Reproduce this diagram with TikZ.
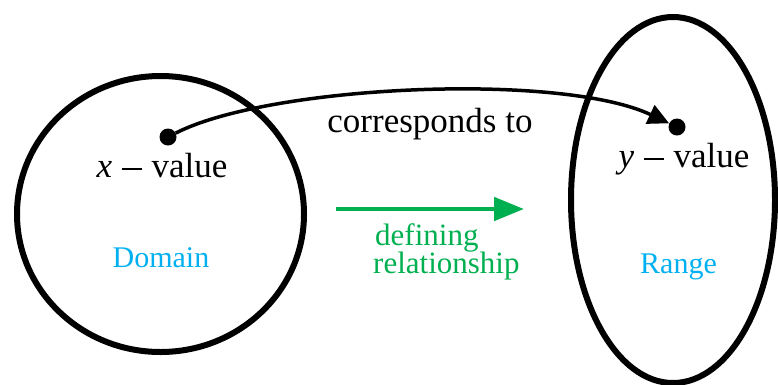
\documentclass[tikz,border=0pt]{standalone}
\usepackage{fontspec}
\setmainfont{Liberation Serif}
\usetikzlibrary{arrows.meta,shapes.geometric}
\definecolor{setblue}{HTML}{00B0F0}
\definecolor{relgreen}{HTML}{00B050}
% a minus bar drawn to the width of the text's own dash
\newcommand{\valminus}{\hspace{0.28em}\rule[0.19em]{0.57em}{0.055em}\hspace{0.28em}}
\tikzset{
  setshape/.style={ellipse, draw=black, line width=6pt, inner sep=0pt},
  valuedot/.style={circle, fill=black, inner sep=0pt, minimum size=17pt},
  valuetext/.style={font=\fontsize{35}{40}\selectfont, text=black, inner sep=0pt, anchor=base},
  setlabel/.style={font=\fontsize{30}{34}\selectfont, text=setblue, inner sep=0pt, anchor=base},
  rellabel/.style={font=\fontsize{31}{34}\selectfont, text=relgreen, inner sep=0pt, anchor=base west},
}
\begin{document}
\begin{tikzpicture}[x=1pt, y=-1pt]
  \useasboundingbox (0,0) rectangle (778,384);
  \clip (0,0) rectangle (778,384);

  % the two sets
  \node[setshape, minimum width=287pt, minimum height=276pt] (domain) at (160.5,214) {};
  \node[setshape, minimum width=204pt, minimum height=366pt] (range) at (673,200) {};

  \node[setlabel] (domainlabel) at (161,267) {Domain};
  \node[setlabel] (rangelabel) at (678.5,273) {Range};

  % the two values
  \node[valuedot] (xdot) at (168,137) {};
  \node[valuedot] (ydot) at (677,127) {};
  \node[valuetext] (xval) at (162,177) {\textit{x}\valminus value};
  \node[valuetext] (yval) at (684,167) {\textit{y}\valminus value};

  % correspondence arrow
  \draw[line width=3.5pt, -{Triangle[length=21pt, width=20pt]}]
    (xdot) .. controls (270,85) and (560,72) .. (ydot);
  \node[valuetext] (corr) at (430,132) {corresponds to};

  % defining relationship
  \coordinate (gstart) at (336,209);
  \coordinate (gend) at (524,209);
  \draw[relgreen, line width=4.8pt, -{Triangle[length=30pt, width=23pt]}] (gstart) -- (gend);
  \node[rellabel] (def1) at (375,245) {defining};
  \node[rellabel] (def2) at (373,273) {relationship};
\end{tikzpicture}
\end{document}
